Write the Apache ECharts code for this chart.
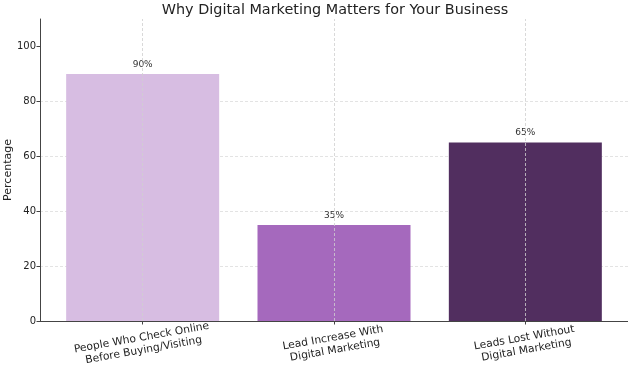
<!DOCTYPE html>
<html>
<head>
<meta charset="utf-8">
<script src="https://cdn.jsdelivr.net/npm/echarts@6/dist/echarts.min.js"></script>
<style>html,body{margin:0;padding:0;background:#fff}#c{width:628px;height:368px}</style>
</head>
<body>
<div id="c"></div>
<script>
const categories = ["People Who Check Online\nBefore Buying/Visiting", "Lead Increase With\nDigital Marketing", "Leads Lost Without\nDigital Marketing"];
const values = [90, 35, 65];
const barColors = ["#d7bde2", "#a569bd", "#512e5f"];
const yTicks = [0, 20, 40, 60, 80, 100];

const font = "DejaVu Sans";
const chart = echarts.init(document.getElementById('c'), null, {renderer: 'canvas'});
const gridLine = {color: '#dcdcdc', width: 0.8, type: [3, 2]};
chart.setOption({
  animation: false,
  textStyle: {fontFamily: font},
  title: {
    text: 'Why Digital Marketing Matters for Your Business',
    left: 330, textAlign: 'center', top: -2,
    textStyle: {fontFamily: font, fontSize: 14.4, fontWeight: 'normal', color: '#222'}
  },
  grid: [
    {left: 40, right: 0, top: 19, bottom: 47, containLabel: false, outerBoundsMode: 'none'},
    {left: 47, right: 7, top: 19, bottom: 47, containLabel: false, outerBoundsMode: 'none'}
  ],
  xAxis: [
    {type: 'value', gridIndex: 0, min: 0, max: 1, axisLabel: {show: false}, axisTick: {show: false},
     splitLine: {show: false}, axisLine: {show: true, lineStyle: {color: '#444', width: 1}}},
    {type: 'category', gridIndex: 1, data: categories,
     axisLine: {show: false},
     axisTick: {show: true, alignWithLabel: true, length: 3.5, lineStyle: {color: '#444'}},
     axisLabel: {rotate: 10, align: 'center', verticalAlign: 'middle', margin: 23, interval: 0,
                 fontFamily: font, fontSize: 10.7, lineHeight: 12.5, color: '#222'}}
  ],
  yAxis: [
    {type: 'value', gridIndex: 0, min: 0, max: 110, interval: 20,
     name: 'Percentage', nameLocation: 'middle', nameGap: 26, nameMoveOverlap: false,
     nameTextStyle: {fontFamily: font, fontSize: 11, color: '#222'},
     axisLine: {show: true, lineStyle: {color: '#444', width: 1}},
     axisTick: {show: true, length: 3.5, lineStyle: {color: '#444'}, customValues: yTicks},
     axisLabel: {fontFamily: font, fontSize: 10, color: '#222', margin: 4, customValues: yTicks},
     splitLine: {show: true, showMaxLine: false, lineStyle: gridLine}},
    {type: 'value', gridIndex: 1, min: 0, max: 110, interval: 20, show: false, splitLine: {show: false}}
  ],
  series: [{
    type: 'bar', xAxisIndex: 1, yAxisIndex: 1,
    data: values.map((v, i) => ({value: v, itemStyle: {color: barColors[i]}})),
    barWidth: 153,
    label: {show: true, position: 'top', distance: 5, fontFamily: font, fontSize: 9, color: '#333',
            formatter: p => p.value + '%'},
    markLine: {
      silent: true, symbol: 'none', label: {show: false},
      lineStyle: {color: '#cfcfcf', width: 0.8, type: [3, 2]},
      data: categories.map(c => ({xAxis: c}))
    }
  }]
});
</script>
</body>
</html>
